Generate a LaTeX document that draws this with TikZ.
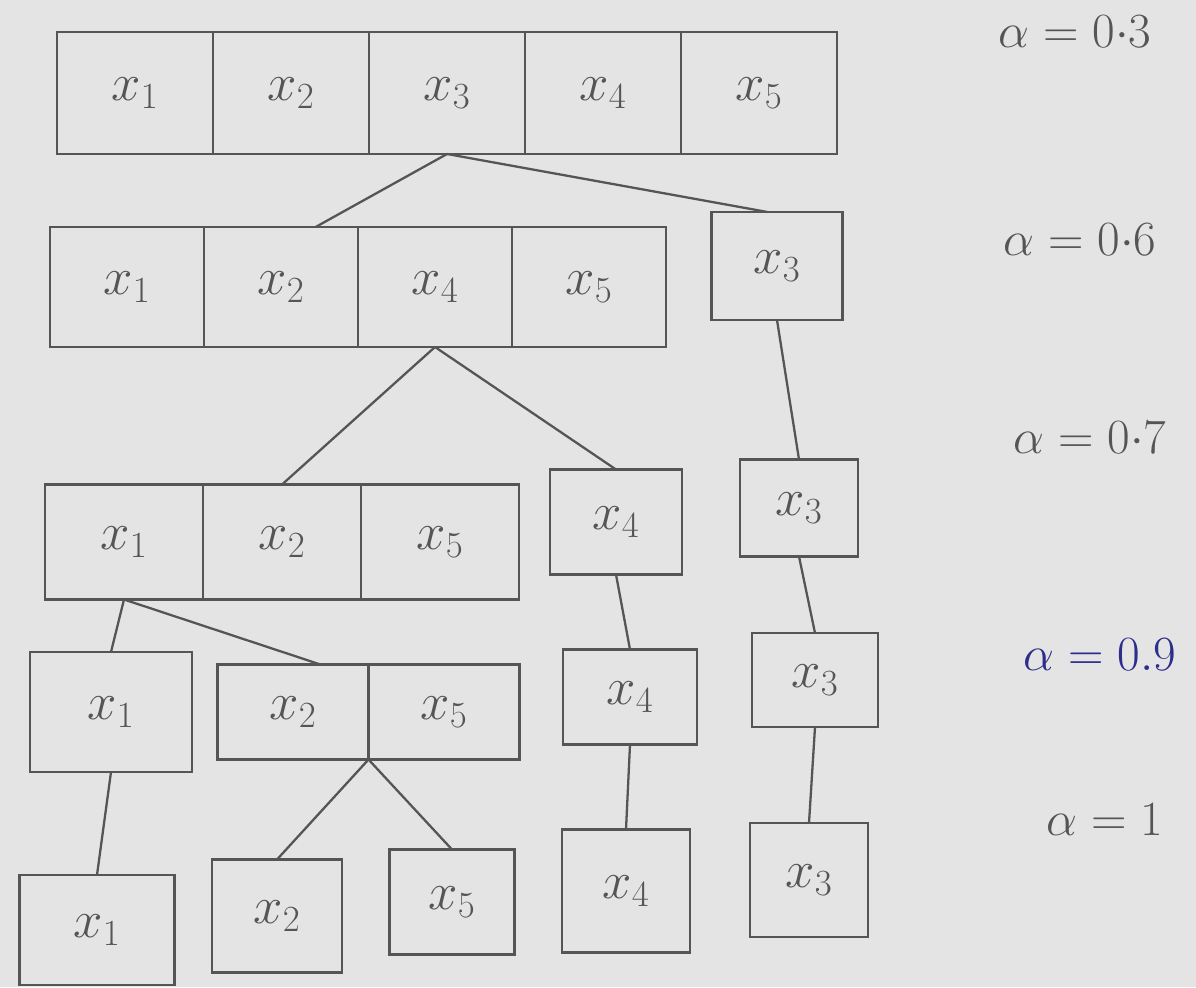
\documentclass[tikz,border=0pt]{standalone}
\usepackage{fix-cm}
\usepackage{amsmath, amssymb}
\usepackage{tikz}
\usetikzlibrary{
  positioning,%
  calc
}
\definecolor{pencil}{RGB}{85,85,85}
\definecolor{paper}{RGB}{228,228,228}
\definecolor{ink}{RGB}{45,45,140}
\tikzset{>=latex}
\tikzset{cell/.style 2 args={draw=pencil, line width=1.3pt, outer sep=0pt,
    minimum width=#1*0.02cm, minimum height=#2*0.02cm,
    font=\fontsize{30}{34}\selectfont, text=pencil}}
\tikzset{link/.style={draw=pencil, line width=1.3pt}}
\tikzset{level/.style={font=\fontsize{28}{32}\selectfont, text=pencil}}

\begin{document}
\begin{tikzpicture}[x=0.02cm, y=-0.02cm]
      \fill[paper] (0,0) rectangle (1196,987);%
      \useasboundingbox (0,0) rectangle (1196,987);%
      % alpha = 0.3
      \node[cell={156}{122}] (r1c1) at (135,93) {$x_1$};%
      \node[cell={156}{122}, right=0pt of r1c1] (r1c2) {$x_2$};%
      \node[cell={156}{122}, right=0pt of r1c2] (r1c3) {$x_3$};%
      \node[cell={156}{122}, right=0pt of r1c3] (r1c4) {$x_4$};%
      \node[cell={156}{122}, right=0pt of r1c4] (r1c5) {$x_5$};%
      % alpha = 0.6
      \node[cell={154}{120}] (r2c1) at (127,287) {$x_1$};%
      \node[cell={154}{120}, right=0pt of r2c1] (r2c2) {$x_2$};%
      \node[cell={154}{120}, right=0pt of r2c2] (r2c4) {$x_4$};%
      \node[cell={154}{120}, right=0pt of r2c4] (r2c5) {$x_5$};%
      \node[cell={131}{108}] (r2x3) at (777,266) {$x_3$};%
      % alpha = 0.7
      \node[cell={158}{115}] (r3c1) at (124,542) {$x_1$};%
      \node[cell={158}{115}, right=0pt of r3c1] (r3c2) {$x_2$};%
      \node[cell={158}{115}, right=0pt of r3c2] (r3c5) {$x_5$};%
      \node[cell={132}{105}] (r3x4) at (616,522) {$x_4$};%
      \node[cell={118}{97}] (r3x3) at (799,508) {$x_3$};%
      % alpha = 0.9
      \node[cell={162}{120}] (r4x1) at (111,712) {$x_1$};%
      \node[cell={151}{95}] (r4c2) at (293,712) {$x_2$};%
      \node[cell={151}{95}, right=0pt of r4c2] (r4c5) {$x_5$};%
      \node[cell={134}{95}] (r4x4) at (630,697) {$x_4$};%
      \node[cell={126}{94}] (r4x3) at (815,680) {$x_3$};%
      % alpha = 1
      \node[cell={155}{110}] (r5x1) at (97,930) {$x_1$};%
      \node[cell={130}{113}] (r5x2) at (277,916) {$x_2$};%
      \node[cell={125}{105}] (r5x5) at (452,902) {$x_5$};%
      \node[cell={128}{123}] (r5x4) at (626,891) {$x_4$};%
      \node[cell={118}{114}] (r5x3) at (809,880) {$x_3$};%
      % links
      \draw[link] (r1c3.south) -- (r2c2.60);%
      \draw[link] (r1c3.south) -- (r2x3.100);%
      \draw[link] (r2c4.south) -- (r3c2.north);%
      \draw[link] (r2c4.south) -- (r3x4.north);%
      \draw[link] (r2x3.south) -- (r3x3.north);%
      \draw[link] (r3c1.south) -- (r4x1.north);%
      \draw[link] (r3c1.south) -- (r4c2.60);%
      \draw[link] (r3x4.south) -- (r4x4.north);%
      \draw[link] (r3x3.south) -- (r4x3.north);%
      \draw[link] (r4x1.south) -- (r5x1.north);%
      \draw[link] (r4c2.south east) -- (r5x2.north);%
      \draw[link] (r4c2.south east) -- (r5x5.north);%
      \draw[link] (r4x4.south) -- (r5x4.north);%
      \draw[link] (r4x3.south) -- (r5x3.north);%
      % levels
      \node[level] (a1) at (1075,32) {$\alpha = 0{\cdot}3$};%
      \node[level] (a2) at (1080,240) {$\alpha = 0{\cdot}6$};%
      \node[level] (a3) at (1090,438) {$\alpha = 0{\cdot}7$};%
      \node[level, text=ink] (a4) at (1100,655) {$\alpha = 0.9$};%
      \node[level] (a5) at (1105,820) {$\alpha = 1$};%
    \end{tikzpicture}
\end{document}
